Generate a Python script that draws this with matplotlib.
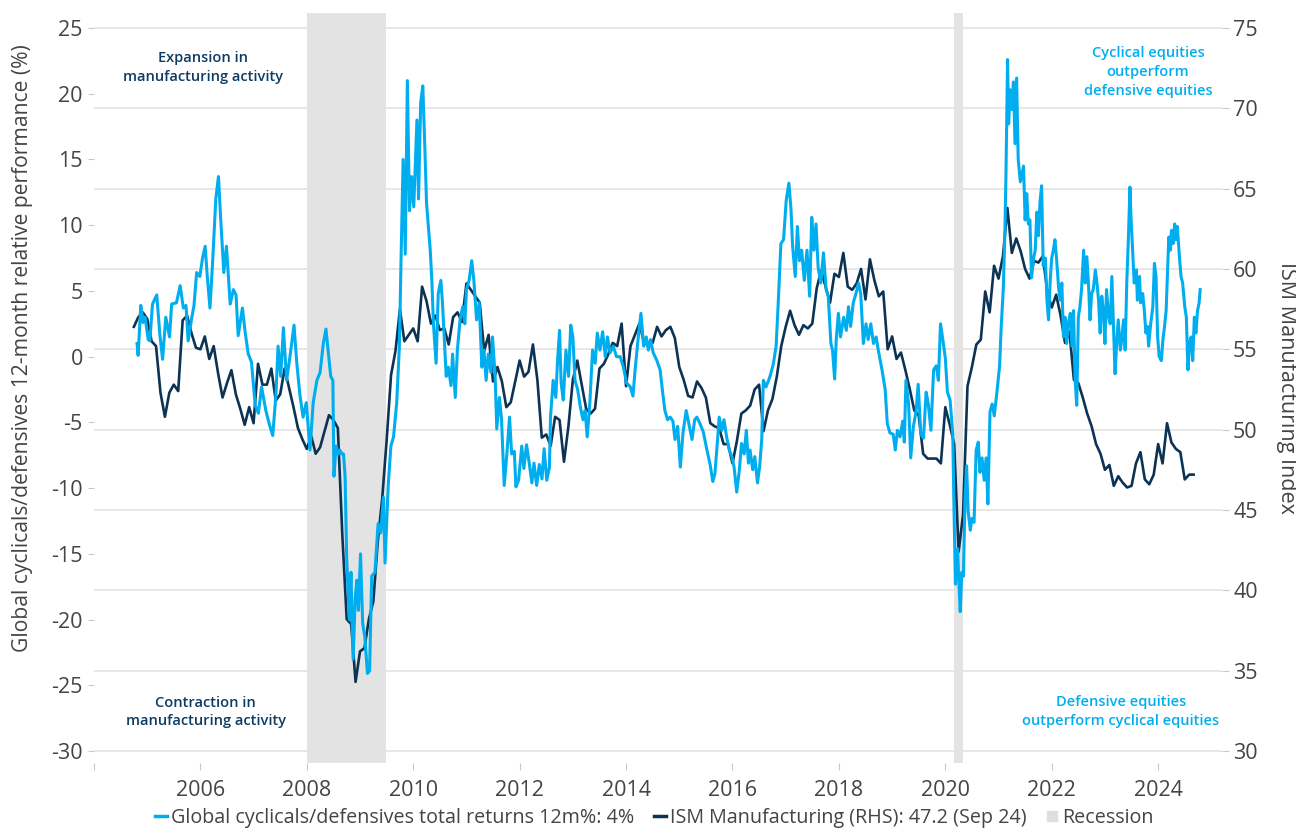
import matplotlib.pyplot as plt
from matplotlib.lines import Line2D
import numpy as np

plt.rcParams['font.family'] = ['Open Sans', 'DejaVu Sans']
plt.rcParams['axes.unicode_minus'] = False

BLUE = '#00aeef'
NAVY = '#0c3354'
GREY_TXT = '#444444'

# ISM Manufacturing, monthly, Oct 2004 - Sep 2024
ism_values = [
    56.4, 57.0, 57.3,
    56.9, 55.5, 55.2, 52.3, 50.8, 52.3, 52.8, 52.4, 56.8, 57.1, 56.0, 55.1,
    55.0, 55.8, 54.4, 55.2, 53.5, 52.0, 52.9, 53.7, 52.2, 51.3, 50.3, 51.4,
    50.4, 54.1, 52.8, 52.8, 53.8, 51.8, 52.2, 53.8, 52.6, 51.4, 50.1, 49.4,
    48.8, 49.6, 48.5, 48.9, 49.9, 50.9, 50.6, 50.1, 43.5, 38.2, 37.9, 34.3,
    36.2, 36.4, 38.2, 39.3, 43.0, 45.7, 49.3, 53.4, 54.9, 57.5, 55.5, 55.9,
    56.3, 55.5, 58.9, 58.0, 56.6, 57.1, 56.2, 56.3, 55.3, 57.0, 57.3, 56.7,
    59.1, 58.7, 58.3, 57.9, 54.9, 55.9, 53.0, 53.9, 53.0, 51.4, 51.7, 53.0,
    54.3, 53.3, 53.6, 55.3, 53.1, 49.5, 49.7, 49.0, 50.8, 50.6, 48.0, 50.2,
    53.1, 54.3, 52.8, 51.3, 51.0, 51.3, 53.8, 54.1, 54.7, 55.4, 55.2, 56.6,
    52.7, 55.2, 55.9, 56.6, 55.5, 55.2, 55.4, 56.4, 55.8, 56.2, 56.4, 55.7,
    53.9, 53.1, 52.1, 52.0, 53.0, 52.6, 52.0, 50.4, 50.2, 50.1, 49.1, 49.1,
    47.9, 49.3, 51.0, 51.2, 51.5, 52.5, 52.8, 49.9, 51.2, 51.9, 53.3, 55.2,
    56.4, 57.4, 56.5, 55.9, 56.5, 56.3, 56.6, 58.8, 59.9, 58.9, 57.9, 59.7,
    59.5, 61.0, 58.9, 58.7, 59.1, 60.0, 58.1, 60.6, 59.3, 58.3, 58.6, 55.0,
    55.8, 54.4, 54.8, 53.7, 52.5, 51.2, 50.9, 48.5, 48.2, 48.2, 48.2, 47.9,
    51.4, 50.3, 49.1, 42.4, 44.7, 52.7, 53.9, 55.3, 55.6, 58.6, 57.3, 60.2,
    59.4, 60.8, 63.8, 61.0, 61.9, 61.1, 60.0, 59.4, 60.5, 60.4, 60.8, 58.6,
    57.6, 58.4, 57.1, 55.4, 56.1, 53.1, 52.9, 52.0, 51.0, 50.2, 49.1, 48.5,
    47.5, 47.8, 46.5, 47.1, 46.7, 46.4, 46.5, 47.9, 48.6, 46.9, 46.6, 47.2,
    49.1, 47.9, 50.4, 49.2, 48.8, 48.6, 46.9, 47.2, 47.2,
]
ism_start = 2004.75

# Global cyclicals/defensives 12m relative total return (%)
cyc_dates = [
    2004.81, 2004.83, 2004.88, 2004.92, 2004.96,
    2005.02, 2005.05, 2005.10, 2005.18, 2005.24, 2005.29, 2005.35, 2005.42, 2005.46, 2005.55, 2005.62, 2005.68, 2005.73, 2005.77, 2005.84, 2005.88, 2005.93, 2005.99,
    2006.04, 2006.09, 2006.13, 2006.18, 2006.23, 2006.29, 2006.34, 2006.38, 2006.44, 2006.49, 2006.56, 2006.62, 2006.67, 2006.71, 2006.79, 2006.84, 2006.90, 2006.96,
    2007.03, 2007.09, 2007.15, 2007.23, 2007.30, 2007.36, 2007.42, 2007.46, 2007.51, 2007.56, 2007.62, 2007.68, 2007.76, 2007.81, 2007.87, 2007.93, 2007.99,
    2008.06, 2008.12, 2008.19, 2008.25, 2008.31, 2008.36, 2008.40, 2008.45, 2008.49, 2008.51, 2008.55, 2008.59, 2008.62, 2008.66, 2008.69, 2008.72, 2008.75, 2008.80, 2008.83, 2008.87, 2008.91, 2008.94, 2008.97,
    2009.01, 2009.05, 2009.09, 2009.14, 2009.18, 2009.22, 2009.28, 2009.34, 2009.39, 2009.44, 2009.47, 2009.53, 2009.58, 2009.63, 2009.69, 2009.74, 2009.77, 2009.81, 2009.85, 2009.89, 2009.93, 2009.97,
    2010.01, 2010.07, 2010.10, 2010.14, 2010.18, 2010.22, 2010.25, 2010.32, 2010.35, 2010.38, 2010.43, 2010.47, 2010.52, 2010.55, 2010.62, 2010.66, 2010.71, 2010.74, 2010.79, 2010.83, 2010.88, 2010.93, 2010.97,
    2011.00, 2011.05, 2011.10, 2011.14, 2011.19, 2011.24, 2011.29, 2011.33, 2011.37, 2011.41, 2011.46, 2011.49, 2011.54, 2011.57, 2011.62, 2011.66, 2011.71, 2011.76, 2011.81, 2011.85, 2011.90, 2011.93, 2011.98,
    2012.04, 2012.08, 2012.13, 2012.18, 2012.23, 2012.27, 2012.32, 2012.37, 2012.42, 2012.46, 2012.51, 2012.56, 2012.58, 2012.63, 2012.68, 2012.71, 2012.75, 2012.78, 2012.82, 2012.87, 2012.92, 2012.96,
    2013.00, 2013.04, 2013.09, 2013.14, 2013.19, 2013.23, 2013.27, 2013.32, 2013.37, 2013.42, 2013.46, 2013.51, 2013.56, 2013.61, 2013.65, 2013.70, 2013.76, 2013.82, 2013.89, 2013.95,
    2014.01, 2014.08, 2014.13, 2014.17, 2014.23, 2014.28, 2014.33, 2014.38, 2014.42, 2014.46, 2014.51, 2014.58, 2014.64, 2014.69, 2014.73, 2014.78, 2014.83, 2014.88, 2014.92, 2014.97,
    2015.02, 2015.07, 2015.13, 2015.19, 2015.24, 2015.29, 2015.33, 2015.39, 2015.45, 2015.52, 2015.58, 2015.63, 2015.67, 2015.72, 2015.75, 2015.80, 2015.84, 2015.89, 2015.94, 2015.99,
    2016.03, 2016.08, 2016.13, 2016.17, 2016.22, 2016.26, 2016.30, 2016.33, 2016.38, 2016.42, 2016.47, 2016.51, 2016.55, 2016.58, 2016.63, 2016.68, 2016.72, 2016.77, 2016.82, 2016.86, 2016.91, 2016.96,
    2017.01, 2017.06, 2017.10, 2017.13, 2017.18, 2017.22, 2017.26, 2017.30, 2017.35, 2017.40, 2017.45, 2017.49, 2017.53, 2017.57, 2017.61, 2017.66, 2017.71, 2017.76, 2017.80, 2017.85, 2017.88, 2017.92, 2017.95, 2017.99,
    2018.03, 2018.09, 2018.14, 2018.18, 2018.22, 2018.27, 2018.32, 2018.37, 2018.41, 2018.46, 2018.51, 2018.55, 2018.60, 2018.65, 2018.70, 2018.74, 2018.81, 2018.87, 2018.91, 2018.96,
    2019.02, 2019.06, 2019.10, 2019.15, 2019.20, 2019.23, 2019.26, 2019.31, 2019.35, 2019.40, 2019.45, 2019.49, 2019.54, 2019.59, 2019.64, 2019.68, 2019.73, 2019.78, 2019.83, 2019.87, 2019.91, 2019.95,
    2020.00, 2020.04, 2020.09, 2020.14, 2020.16, 2020.19, 2020.23, 2020.25, 2020.28, 2020.31, 2020.34, 2020.37, 2020.40, 2020.43, 2020.47, 2020.50, 2020.54, 2020.58, 2020.62, 2020.65, 2020.69, 2020.73, 2020.77, 2020.80, 2020.84, 2020.88, 2020.92, 2020.97,
    2021.02, 2021.05, 2021.09, 2021.12, 2021.14, 2021.17, 2021.19, 2021.22, 2021.25, 2021.28, 2021.31, 2021.34, 2021.37, 2021.41, 2021.44, 2021.47, 2021.50, 2021.53, 2021.56, 2021.59, 2021.62, 2021.66, 2021.69, 2021.72, 2021.75, 2021.78, 2021.81, 2021.84, 2021.88, 2021.91, 2021.94, 2021.97,
    2022.00, 2022.03, 2022.06, 2022.09, 2022.13, 2022.16, 2022.19, 2022.22, 2022.25, 2022.28, 2022.31, 2022.35, 2022.38, 2022.41, 2022.44, 2022.47, 2022.50, 2022.53, 2022.56, 2022.60, 2022.63, 2022.66, 2022.69, 2022.72, 2022.75, 2022.78, 2022.82, 2022.85, 2022.88, 2022.91, 2022.94, 2022.97,
    2023.00, 2023.03, 2023.07, 2023.10, 2023.13, 2023.16, 2023.19, 2023.22, 2023.25, 2023.29, 2023.32, 2023.35, 2023.38, 2023.41, 2023.44, 2023.47, 2023.49, 2023.52, 2023.55, 2023.59, 2023.61, 2023.65, 2023.67, 2023.71, 2023.74, 2023.77, 2023.80, 2023.82, 2023.86, 2023.90, 2023.93, 2023.96, 2023.99,
    2024.02, 2024.06, 2024.09, 2024.12, 2024.15, 2024.18, 2024.20, 2024.23, 2024.25, 2024.28, 2024.31, 2024.33, 2024.36, 2024.40, 2024.43, 2024.46, 2024.50, 2024.53, 2024.56, 2024.59, 2024.62, 2024.65, 2024.68, 2024.71, 2024.74, 2024.77, 2024.79,
]
cyc_values = [
    1.0, 0.1, 3.9, 2.6, 3.0,
    1.3, 1.2, 4.0, 4.7, 1.6, -0.2, 3.0, 1.5, 4.0, 4.1, 5.4, 3.7, 3.9, 1.2, 3.0, 3.9, 6.4, 6.1,
    7.5, 8.4, 6.1, 3.7, 7.2, 12.0, 13.7, 10.6, 6.4, 8.4, 4.0, 5.1, 4.7, 1.6, 3.7, 1.9, 0.2, -0.4,
    -3.7, -4.3, -2.3, -4.1, -5.2, -6.0, -2.9, 0.8, -1.5, 2.2, -1.8, -0.1, 2.4, -0.4, -2.9, -4.6, -3.5,
    -7.1, -3.5, -1.8, -1.2, 1.0, 2.1, 0.5, -1.5, -1.8, -9.1, -6.8, -7.4, -7.1, -7.4, -7.4, -9.1, -15.4, -20.0, -16.4, -23.0, -18.4, -17.0, -19.3,
    -15.0, -20.3, -21.3, -24.1, -23.9, -16.7, -16.4, -12.7, -13.4, -10.7, -15.7, -9.8, -6.8, -6.1, -3.5, 0.8, 7.1, 15.0, 7.8, 21.0, 11.1, 13.7,
    11.4, 18.0, 12.0, 19.3, 20.6, 15.7, 11.7, 8.1, 5.8, 2.5, -0.5, 4.8, 5.8, 4.1, -1.5, -0.8, -2.2, 0.2, -3.1, 0.5, 2.8, 3.8, 2.5,
    5.1, 5.8, 7.3, 5.8, 2.8, 4.1, -0.8, 0.5, -1.8, 0.2, -1.2, 1.5, -1.5, -5.5, -3.1, -4.8, -9.8, -7.4, -4.6, -7.4, -7.2, -9.9, -9.4,
    -6.8, -8.5, -6.7, -8.1, -9.6, -8.1, -9.8, -8.2, -9.3, -7.0, -9.4, -8.4, -4.6, -1.8, -3.1, -0.5, 2.0, -2.0, -3.3, 0.5, -1.5, 2.4,
    1.5, -1.8, -2.5, -3.8, -4.8, -4.1, -6.1, -3.5, 0.5, -0.5, 1.8, 0.5, 1.9, 0.0, 1.5, 0.3, 0.8, 0.0, 0.0, -0.8,
    -2.0, -2.3, -3.0, -1.0, 1.5, 3.3, 0.8, 1.5, 0.5, 1.3, 0.3, -0.3, -1.0, -2.8, -4.1, -4.8, -4.6, -4.9, -6.3, -5.3,
    -8.4, -5.8, -4.1, -5.3, -6.3, -4.8, -4.6, -5.1, -5.7, -7.1, -8.2, -9.5, -8.9, -6.3, -4.6, -5.6, -4.8, -6.1, -7.1, -7.6,
    -8.4, -10.3, -8.6, -6.6, -7.4, -5.6, -8.1, -7.1, -8.6, -7.6, -9.6, -8.4, -6.3, -1.8, -2.3, -1.8, -1.3, -0.5, 0.8, 4.1, 8.6, 8.9,
    11.9, 13.2, 11.2, 8.4, 6.1, 9.9, 7.3, 8.1, 5.8, 8.1, 4.6, 10.6, 8.1, 10.1, 6.8, 5.6, 7.9, 5.1, 4.6, 1.0, 0.5, -1.7, 1.3, 3.3,
    1.5, 3.0, 2.0, 3.8, 2.3, 4.1, 4.8, 5.6, 4.8, 1.0, 2.5, 1.3, 2.5, 1.0, 1.5, 0.5, -1.0, -2.5, -5.1, -5.8,
    -5.9, -7.1, -5.6, -6.1, -4.9, -6.5, -1.8, -3.6, -7.7, -5.3, -4.2, -2.1, -5.9, -6.2, -2.7, -3.6, -5.6, -1.0, -0.7, -1.8, 2.5, 1.4,
    -0.1, -2.7, -3.3, -5.9, -10.9, -17.3, -14.6, -16.7, -19.4, -16.4, -16.7, -10.9, -8.3, -11.8, -13.2, -12.3, -12.6, -7.1, -6.5, -8.8, -7.7, -9.4, -7.7, -11.2, -4.2, -3.6, -4.5, -2.7,
    -0.7, 2.2, 5.2, 9.5, 13.9, 22.6, 17.7, 20.3, 18.8, 20.9, 16.2, 21.2, 15.0, 13.3, 13.9, 14.5, 10.4, 12.4, 10.1, 10.4, 6.0, 7.5, 8.1, 11.0, 9.2, 11.8, 13.0, 6.9, 7.5, 4.3, 2.8, 5.7,
    7.5, 8.1, 8.9, 7.5, 5.2, 4.3, 5.6, 1.5, 3.0, 1.0, 2.5, 3.3, 0.8, 3.5, -1.8, -3.7, 3.0, 3.8, 5.1, 8.1, 5.6, 7.6, 5.6, 2.8, 4.8, 5.1, 6.6, 5.6, 4.3, 1.8, 4.6, 3.5,
    1.0, 5.1, 3.0, 2.5, 6.1, 2.5, -1.3, 1.0, 2.8, 0.5, 1.5, 2.8, 0.5, 5.6, 8.9, 12.9, 10.6, 8.1, 5.6, 6.6, 4.3, 6.1, 4.1, 4.8, 3.5, 1.8, 2.3, 0.8, 2.5, 3.8, 7.1, 6.1, 1.5,
    0.0, -0.3, 1.3, 2.3, 3.5, 6.8, 9.1, 8.1, 9.6, 8.6, 10.1, 8.9, 9.9, 7.6, 6.1, 5.6, 3.8, 3.0, -1.0, 1.0, 1.5, -0.3, 3.0, 1.8, 3.5, 4.1, 5.1,
]

recession_start = [2008.0, 2020.17]
recession_end = [2009.48, 2020.33]

left_ticks = list(range(-30, 30, 5))
right_ticks = list(range(30, 80, 5))
year_ticks = list(range(2004, 2025, 2))

ism_dates = ism_start + np.arange(len(ism_values)) / 12.0

fig = plt.figure(figsize=(12.96, 8.3), dpi=100)
ax = fig.add_axes([0.0725, 0.0807, 0.8704, 0.9036])
ax2 = ax.twinx()
ax.set_zorder(ax2.get_zorder() + 1)
ax.patch.set_visible(False)

for s, e in zip(recession_start, recession_end):
    ax2.axvspan(s, e, color='#e3e3e3', lw=0, zorder=0.2)

ax2.plot(ism_dates, ism_values, color=NAVY, lw=1.9, solid_joinstyle='round', zorder=2)
ax.plot(cyc_dates, cyc_values, color=BLUE, lw=2.2, solid_joinstyle='round', zorder=2)

ax.set_xlim(2004.0, 2025.2)
ax.set_ylim(-30.91, 26.14)
ax2.set_ylim(29.25, 75.93)

ax2.set_yticks(right_ticks)
ax2.grid(axis='y', color='#e3e3e3', lw=1.2)
ax2.set_axisbelow(True)

ax.set_yticks(left_ticks)
ax.set_yticklabels([str(t) for t in left_ticks])
ax.set_xticks(year_ticks)
ax.set_xticklabels(['' if y == 2004 else str(y) for y in year_ticks])

for a in (ax, ax2):
    for sp in a.spines.values():
        sp.set_visible(False)

ax.tick_params(axis='y', length=4, width=0.8, color='#c8c8c8', labelcolor=GREY_TXT,
               labelsize=15.5, pad=4)
ax2.tick_params(axis='y', length=5, width=0.8, color='#c8c8c8', labelcolor=GREY_TXT,
                labelsize=15.5, pad=3)
ax.tick_params(axis='x', length=5, width=0.8, color='#c8c8c8', labelcolor=GREY_TXT,
               labelsize=15.5, pad=7)

fig.text(0.017, 0.580, 'Global cyclicals/defensives 12-month relative performance (%)',
         rotation=90, ha='center', va='center', fontsize=15.2, color=GREY_TXT)
fig.text(0.993, 0.533, 'ISM Manufacturing Index', rotation=270, ha='center', va='center',
         fontsize=15.5, color=GREY_TXT)

tr = ax.get_xaxis_transform()
ax.text(2006.05, 0.928, 'Expansion in\nmanufacturing activity', transform=tr, ha='center',
        va='center', fontsize=10.5, fontweight='semibold', color='#0d3b63', linespacing=1.45)
ax.text(2006.1, 0.068, 'Contraction in\nmanufacturing activity', transform=tr, ha='center',
        va='center', fontsize=10.5, fontweight='semibold', color='#0d3b63', linespacing=1.45)
ax.text(2023.81, 0.921, 'Cyclical equities\noutperform\ndefensive equities', transform=tr,
        ha='center', va='center', fontsize=10.5, fontweight='semibold', color=BLUE,
        linespacing=1.45)
ax.text(2023.30, 0.069, 'Defensive equities\noutperform cyclical equities', transform=tr,
        ha='center', va='center', fontsize=10.5, fontweight='semibold', color=BLUE,
        linespacing=1.45)

handles = [
    Line2D([], [], color=BLUE, lw=2.5),
    Line2D([], [], color=NAVY, lw=2.5),
    Line2D([], [], color='#dedede', marker='s', linestyle='none', markersize=7),
]
labels = [
    'Global cyclicals/defensives total returns 12m%: 4%',
    'ISM Manufacturing (RHS): 47.2 (Sep 24)',
    'Recession',
]
fig.legend(handles, labels, loc='center', bbox_to_anchor=(0.505, 0.0145), ncol=3,
           frameon=False, fontsize=14.2, handlelength=0.6, handletextpad=0.2,
           columnspacing=1.0, labelcolor=GREY_TXT)

fig.savefig('out.png', dpi=100)
